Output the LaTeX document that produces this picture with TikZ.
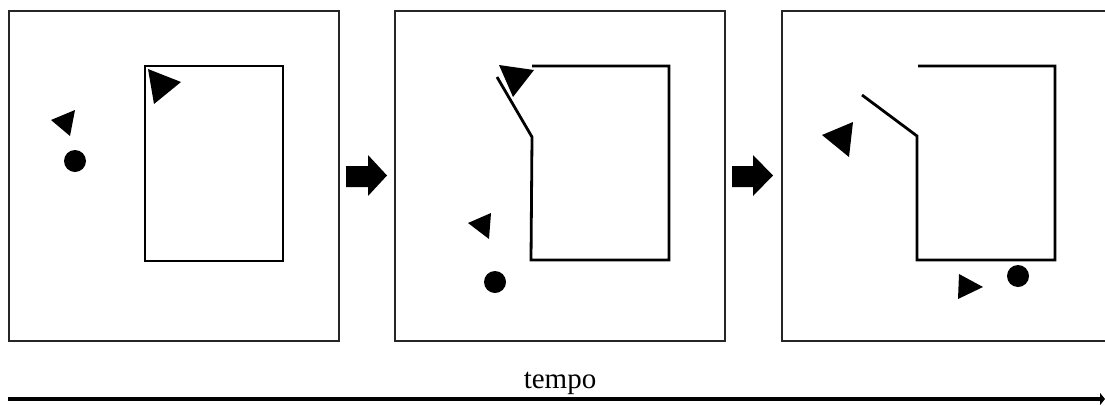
\documentclass[tikz,border=0pt]{standalone}
\usepackage{fontspec}
\setmainfont{Liberation Serif}
\usetikzlibrary{arrows.meta}
\begin{document}
\begin{tikzpicture}[x=1pt,y=-1pt,
  frame/.style={draw=black!85, line width=2pt},
  wall/.style={draw=black, line width=2.8pt, line join=miter},
  token/.style={fill=black},
  blockarrow/.style={fill=black},
  timeline/.style={draw=black, line width=3.8pt, -{Triangle[length=5pt,width=12pt]}},
]
\useasboundingbox (0,0) rectangle (1105,405);
\clip (0,0) rectangle (1105,405);

% ---------- stage 1: closed room, small agents outside ----------
\draw[frame] (9,11) rectangle (339,341);
\draw[wall] (145,66) rectangle (283,261);
\fill[token] (148,69) -- (181,82) -- (154,104) -- cycle;
\fill[token] (51,120) -- (75,110) -- (70,136) -- cycle;
\fill[token] (75,161) circle[radius=11];

% ---------- stage 2: door pushed open ----------
\draw[frame] (395,11) rectangle (725,341);
\draw[wall] (532,66) -- (669,66) -- (669,260) -- (531,260) -- (532,137) -- (497,77);
\fill[token] (499,65) -- (534,70) -- (513,97) -- cycle;
\fill[token] (468,223) -- (491,213) -- (489,239) -- cycle;
\fill[token] (495,282) circle[radius=11];

% ---------- stage 3: door wide open, agents dispersed ----------
\draw[frame] (782,11) rectangle (1112,341);
\draw[wall] (918,66) -- (1055,66) -- (1055,260) -- (917,260) -- (917,136) -- (862,95);
\fill[token] (822,135) -- (853,122) -- (849,157) -- cycle;
\fill[token] (959,274) -- (983,287) -- (958,299) -- cycle;
\fill[token] (1018,276) circle[radius=11];

% ---------- transitions between stages ----------
\fill[blockarrow] (346,166) -- (368,166) -- (368,155) -- (387,175.5)
  -- (368,196) -- (368,187) -- (346,187) -- cycle;
\fill[blockarrow] (732,166) -- (753,166) -- (753,155) -- (773,175.5)
  -- (753,196) -- (753,187) -- (732,187) -- cycle;

% ---------- time axis ----------
\coordinate (t0) at (8,399);
\coordinate (t1) at (1105,399);
\draw[timeline] (t0) -- (t1);
\node[anchor=base, inner sep=0pt, font=\fontsize{29}{32}\selectfont] (tempo) at (560,388) {tempo};
\end{tikzpicture}
\end{document}
